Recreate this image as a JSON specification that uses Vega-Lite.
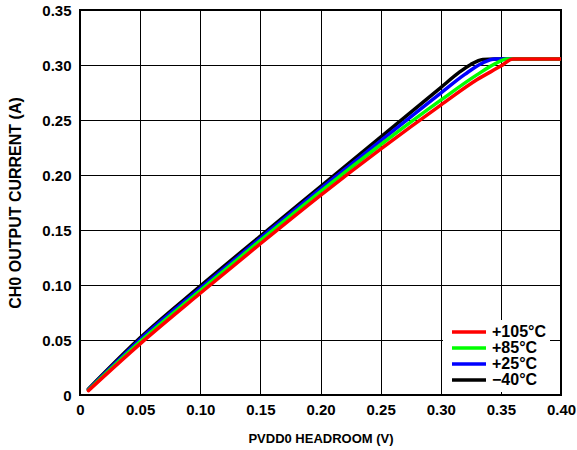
{
  "$schema": "https://vega.github.io/schema/vega-lite/v6.json",
  "width": 481,
  "height": 385,
  "autosize": {"type": "none"},
  "padding": {"left": 80, "top": 10, "right": 16, "bottom": 55},
  "background": "white",
  "config": {
    "view": {"stroke": "black", "strokeWidth": 2},
    "font": "Liberation Sans"
  },
  "data": {
    "values": [
      {"t": "−40°C", "v": 0.007, "i": 0.0055},
      {"t": "−40°C", "v": 0.05, "i": 0.052},
      {"t": "−40°C", "v": 0.10, "i": 0.099},
      {"t": "−40°C", "v": 0.15, "i": 0.1445},
      {"t": "−40°C", "v": 0.20, "i": 0.1895},
      {"t": "−40°C", "v": 0.25, "i": 0.2345},
      {"t": "−40°C", "v": 0.30, "i": 0.2795},
      {"t": "−40°C", "v": 0.315, "i": 0.293},
      {"t": "−40°C", "v": 0.325, "i": 0.3005},
      {"t": "−40°C", "v": 0.335, "i": 0.305},
      {"t": "−40°C", "v": 0.345, "i": 0.3055},
      {"t": "−40°C", "v": 0.40, "i": 0.3055},
      {"t": "+25°C", "v": 0.007, "i": 0.005},
      {"t": "+25°C", "v": 0.05, "i": 0.0505},
      {"t": "+25°C", "v": 0.10, "i": 0.097},
      {"t": "+25°C", "v": 0.15, "i": 0.1425},
      {"t": "+25°C", "v": 0.20, "i": 0.1875},
      {"t": "+25°C", "v": 0.25, "i": 0.231},
      {"t": "+25°C", "v": 0.30, "i": 0.2745},
      {"t": "+25°C", "v": 0.32, "i": 0.2915},
      {"t": "+25°C", "v": 0.335, "i": 0.302},
      {"t": "+25°C", "v": 0.345, "i": 0.3055},
      {"t": "+25°C", "v": 0.40, "i": 0.3055},
      {"t": "+85°C", "v": 0.007, "i": 0.0045},
      {"t": "+85°C", "v": 0.05, "i": 0.0485},
      {"t": "+85°C", "v": 0.10, "i": 0.095},
      {"t": "+85°C", "v": 0.15, "i": 0.1405},
      {"t": "+85°C", "v": 0.20, "i": 0.185},
      {"t": "+85°C", "v": 0.25, "i": 0.2275},
      {"t": "+85°C", "v": 0.30, "i": 0.268},
      {"t": "+85°C", "v": 0.33, "i": 0.291},
      {"t": "+85°C", "v": 0.345, "i": 0.301},
      {"t": "+85°C", "v": 0.355, "i": 0.3055},
      {"t": "+85°C", "v": 0.40, "i": 0.3055},
      {"t": "+105°C", "v": 0.007, "i": 0.004},
      {"t": "+105°C", "v": 0.05, "i": 0.0465},
      {"t": "+105°C", "v": 0.10, "i": 0.0925},
      {"t": "+105°C", "v": 0.15, "i": 0.1375},
      {"t": "+105°C", "v": 0.20, "i": 0.1815},
      {"t": "+105°C", "v": 0.25, "i": 0.2235},
      {"t": "+105°C", "v": 0.30, "i": 0.2635},
      {"t": "+105°C", "v": 0.33, "i": 0.2865},
      {"t": "+105°C", "v": 0.35, "i": 0.299},
      {"t": "+105°C", "v": 0.36, "i": 0.3055},
      {"t": "+105°C", "v": 0.40, "i": 0.3055}
    ]
  },
  "mark": {"type": "line", "strokeWidth": 3.5, "interpolate": "monotone", "strokeCap": "round", "clip": true},
  "encoding": {
    "x": {
      "field": "v", "type": "quantitative",
      "scale": {"domain": [0, 0.4], "nice": false},
      "axis": {
        "values": [0, 0.05, 0.1, 0.15, 0.2, 0.25, 0.3, 0.35, 0.4],
        "labelExpr": "datum.value == 0 ? '0' : format(datum.value, '.2f')",
        "grid": true, "gridColor": "black", "gridWidth": 1, "gridOpacity": 1,
        "ticks": false, "domain": false,
        "labelFont": "Liberation Sans", "labelFontSize": 15, "labelFontWeight": "bold", "labelColor": "black",
        "labelPadding": 7, "labelFlush": false,
        "title": "PVDD0 HEADROOM (V)",
        "titleFont": "Liberation Sans", "titleFontSize": 13, "titleFontWeight": "bold", "titleColor": "black",
        "titleY": 47, "titleBaseline": "alphabetic"
      }
    },
    "y": {
      "field": "i", "type": "quantitative",
      "scale": {"domain": [0, 0.35], "nice": false},
      "axis": {
        "values": [0, 0.05, 0.1, 0.15, 0.2, 0.25, 0.3, 0.35],
        "labelExpr": "datum.value == 0 ? '0' : format(datum.value, '.2f')",
        "grid": true, "gridColor": "black", "gridWidth": 1, "gridOpacity": 1,
        "ticks": false, "domain": false,
        "labelFont": "Liberation Sans", "labelFontSize": 15, "labelFontWeight": "bold", "labelColor": "black",
        "labelPadding": 9, "labelFlush": false,
        "title": "CH0 OUTPUT CURRENT (A)",
        "titleFont": "Liberation Sans", "titleFontSize": 16, "titleFontWeight": "bold", "titleColor": "black",
        "titleX": -65, "titleBaseline": "middle"
      }
    },
    "color": {
      "field": "t", "type": "nominal",
      "scale": {
        "domain": ["+105°C", "+85°C", "+25°C", "−40°C"],
        "range": ["#ff0000", "#00ff00", "#0000ff", "#000000"]
      },
      "legend": {
        "title": null,
        "orient": "none",
        "legendX": 363,
        "legendY": 310,
        "fillColor": "white",
        "padding": 4,
        "symbolType": "M -0.6 0 L 6.2 0",
        "symbolSize": 100,
        "symbolStrokeWidth": 3.5,
        "labelFont": "Liberation Sans",
        "labelFontSize": 16,
        "labelFontWeight": "bold",
        "labelColor": "black",
        "labelOffset": 29,
        "rowPadding": 0
      }
    }
  }
}
